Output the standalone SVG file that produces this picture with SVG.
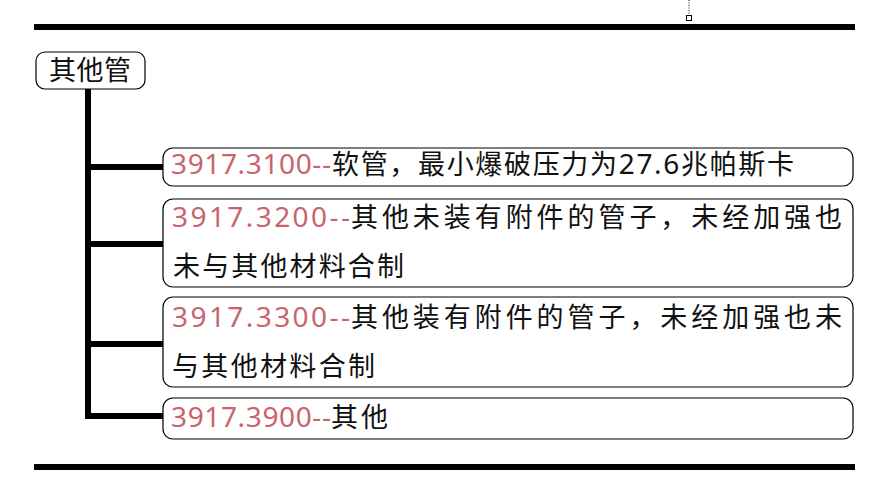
<svg xmlns="http://www.w3.org/2000/svg" width="891" height="499" viewBox="0 0 891 499">
<style>
.box{fill:#fff;stroke:#000;stroke-width:1.2}
.t{font-family:"Noto Sans CJK SC","Noto Sans",sans-serif;font-size:27px;fill:#111}
.r{font-family:"Noto Sans","Noto Sans CJK SC",sans-serif;font-size:28px;fill:#c8646b}
.n{font-family:"Noto Sans","Noto Sans CJK SC",sans-serif;font-size:28px}
.bar{fill:#000}
</style>
<rect width="891" height="499" fill="#fff"/>
<rect class="bar" x="34" y="24" width="821" height="6"/>
<rect class="bar" x="34" y="464" width="821" height="6"/>
<line x1="689" y1="0" x2="689" y2="14" stroke="#000" stroke-width="1" stroke-dasharray="1,1.5"/>
<rect x="686.5" y="15.5" width="5" height="5" fill="#fff" stroke="#000" stroke-width="1"/>
<g id="connectors">
<rect class="bar" x="85" y="89" width="6" height="330"/>
<rect class="bar" x="85" y="164" width="78" height="6"/>
<rect class="bar" x="85" y="241" width="78" height="6"/>
<rect class="bar" x="85" y="341" width="78" height="6"/>
<rect class="bar" x="85" y="413" width="78" height="6"/>
</g>
<g id="root">
<rect class="box" x="36" y="52" width="109" height="37" rx="9"/>
<text class="t" x="49" y="80" textLength="82" lengthAdjust="spacing">其他管</text>
</g>
<g id="n3100">
<rect class="box" x="163" y="148" width="690" height="38" rx="10"/>
<text class="r" x="171" y="174" textLength="160" lengthAdjust="spacing">3917.3100--</text>
<text class="t" x="332" y="174" textLength="462" lengthAdjust="spacing">软管，最小爆破压力为<tspan class="n">27.6</tspan>兆帕斯卡</text>
</g>
<g id="n3200">
<rect class="box" x="163" y="199" width="690" height="88" rx="10"/>
<text class="r" x="172" y="227" textLength="178" lengthAdjust="spacing">3917.3200--</text>
<text class="t" x="351" y="227" textLength="491" lengthAdjust="spacing">其他未装有附件的管子，未经加强也</text>
<text class="t" x="173" y="276" textLength="231" lengthAdjust="spacing">未与其他材料合制</text>
</g>
<g id="n3300">
<rect class="box" x="163" y="297" width="690" height="90" rx="10"/>
<text class="r" x="172" y="327" textLength="178" lengthAdjust="spacing">3917.3300--</text>
<text class="t" x="351" y="327" textLength="491" lengthAdjust="spacing">其他装有附件的管子，未经加强也未</text>
<text class="t" x="172" y="376" textLength="203" lengthAdjust="spacing">与其他材料合制</text>
</g>
<g id="n3900">
<rect class="box" x="163" y="398" width="690" height="41" rx="10"/>
<text class="r" x="171" y="427" textLength="160" lengthAdjust="spacing">3917.3900--</text>
<text class="t" x="331" y="427" textLength="57" lengthAdjust="spacing">其他</text>
</g>
</svg>
